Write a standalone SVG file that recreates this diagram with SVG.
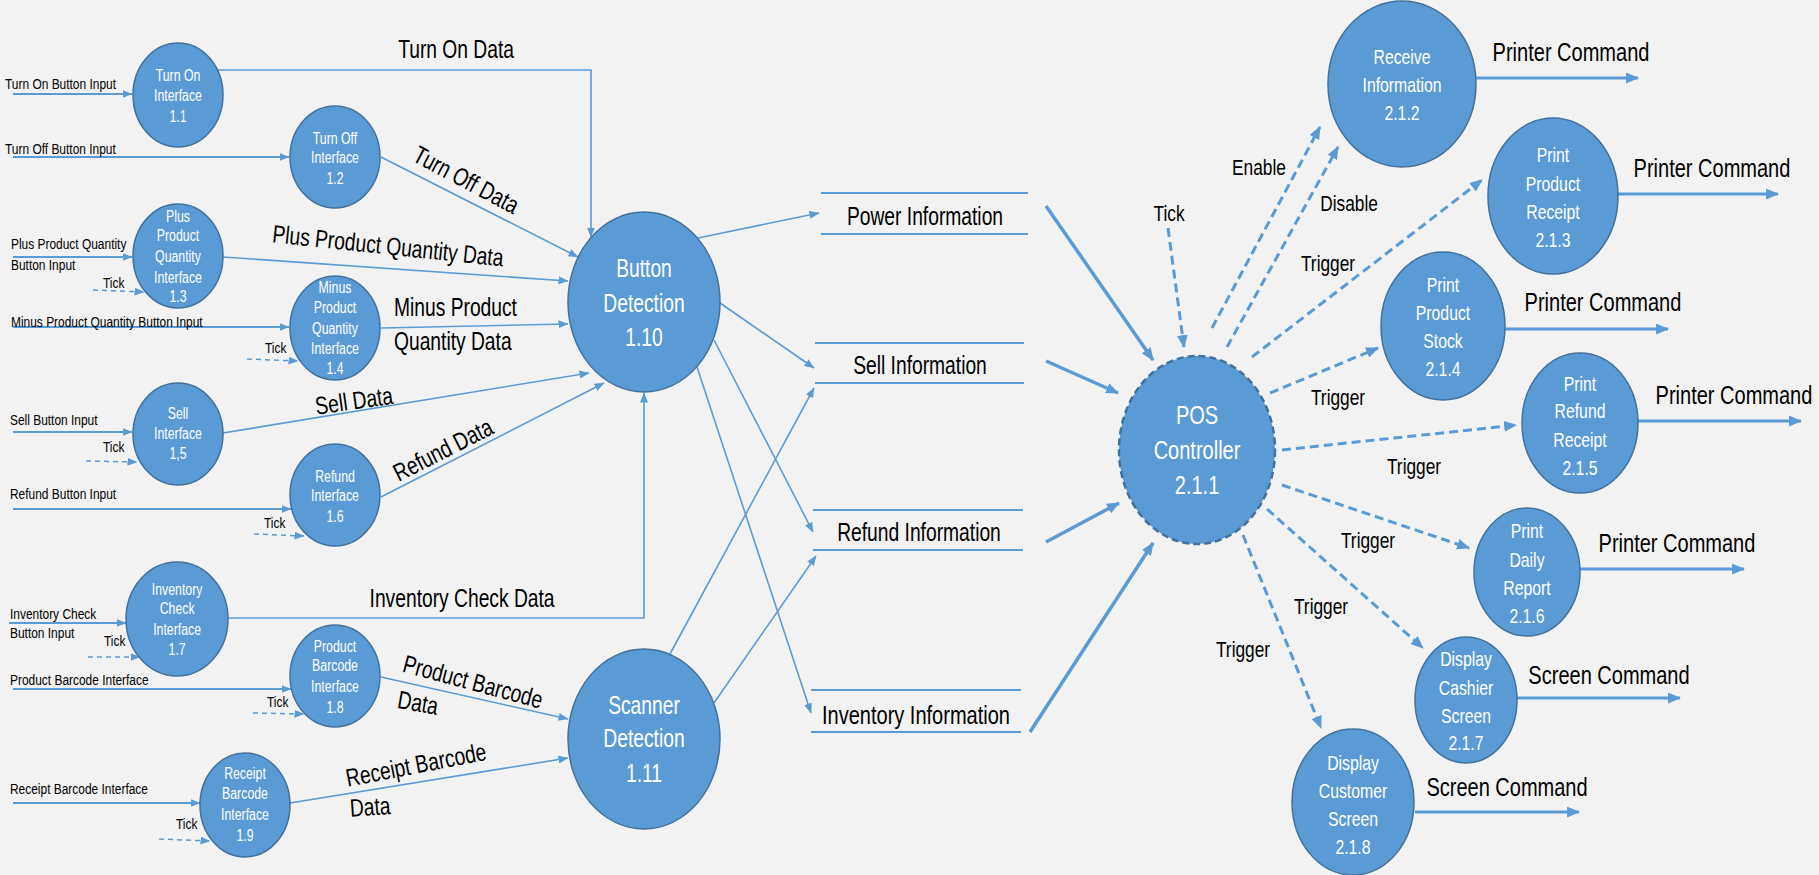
<svg xmlns="http://www.w3.org/2000/svg" width="1819" height="875" viewBox="0 0 1819 875">
<defs>
<style>
text { font-family: "Liberation Sans", Arial, sans-serif; dominant-baseline: central; transform-box: fill-box; transform: scaleX(0.77); fill:#000; }
.c { text-anchor: middle; transform-origin: 50% 50%; }
.l { text-anchor: start; transform-origin: 0% 50%; }
.w { fill:#fff; }
.f15 { font-size:15.5px; }
.f16 { font-size:16px; }
.f20 { font-size:20.5px; }
.f22 { font-size:22.5px; }
.f25 { font-size:25px; }
.f26 { font-size:26px; }
.n { fill:#5b9bd5; stroke:#41719c; stroke-width:1.5; }
.pos { fill:#5b9bd5; stroke:#41719c; stroke-width:2.5; stroke-dasharray:7 4; }
.ln { stroke:#5b9bd5; stroke-width:1.6; fill:none; marker-end:url(#ah); }
.in { stroke-width:2; }
.tk { stroke-width:1.5; stroke-dasharray:5 4; }
.th { stroke-width:3.5; marker-end:url(#ahb); }
.cm { stroke-width:3; marker-end:url(#ahb); }
.dd { stroke-width:3; stroke-dasharray:9 5; marker-end:url(#ahb); }
.st { stroke:#5b9bd5; stroke-width:2; }
</style>
<marker id="ah" viewBox="0 0 10 8" refX="9.5" refY="4" markerWidth="10" markerHeight="8" markerUnits="userSpaceOnUse" orient="auto"><path d="M0,0 L10,4 L0,8 z" fill="#5b9bd5"/></marker>
<marker id="ahb" viewBox="0 0 12 10" refX="11" refY="5" markerWidth="13" markerHeight="11" markerUnits="userSpaceOnUse" orient="auto"><path d="M0,0 L12,5 L0,10 z" fill="#5b9bd5"/></marker>
</defs>
<rect width="1819" height="875" fill="#f2f2f2"/>

<g id="connectors">
<line class="ln in" x1="13" y1="94" x2="132" y2="94"/>
<line class="ln in" x1="13" y1="157" x2="289" y2="157"/>
<line class="ln in" x1="13" y1="257" x2="132" y2="257"/>
<line class="ln tk" x1="93" y1="290" x2="144" y2="292"/>
<line class="ln in" x1="13" y1="327" x2="289" y2="327"/>
<line class="ln tk" x1="247" y1="359" x2="298" y2="361"/>
<line class="ln in" x1="13" y1="432" x2="132" y2="432"/>
<line class="ln tk" x1="86" y1="461" x2="137" y2="462"/>
<line class="ln in" x1="13" y1="509" x2="291" y2="509"/>
<line class="ln tk" x1="254" y1="534" x2="304" y2="536"/>
<line class="ln in" x1="9" y1="623" x2="126" y2="623"/>
<line class="ln tk" x1="88" y1="657" x2="140" y2="657"/>
<line class="ln in" x1="13" y1="689" x2="291" y2="689"/>
<line class="ln tk" x1="253" y1="713" x2="304" y2="714"/>
<line class="ln in" x1="13" y1="803" x2="200" y2="803"/>
<line class="ln tk" x1="159" y1="839" x2="210" y2="841"/>
<polyline class="ln" points="217,70 591,70 591,237"/>
<line class="ln" x1="381" y1="157" x2="578" y2="257"/>
<line class="ln" x1="223" y1="257" x2="568" y2="281"/>
<line class="ln" x1="381" y1="328" x2="568" y2="324"/>
<line class="ln" x1="223" y1="433" x2="589" y2="373"/>
<line class="ln" x1="381" y1="497" x2="604" y2="383"/>
<polyline class="ln" points="228,618 644,618 644,393"/>
<line class="ln" x1="381" y1="677" x2="568" y2="719"/>
<line class="ln" x1="290" y1="803" x2="568" y2="758"/>
<line class="ln" x1="698" y1="238" x2="819" y2="213"/>
<line class="ln" x1="720" y1="303" x2="814" y2="368"/>
<line class="ln" x1="714" y1="340" x2="813" y2="532"/>
<line class="ln" x1="697" y1="367" x2="811" y2="713"/>
<line class="ln" x1="670" y1="654" x2="814" y2="388"/>
<line class="ln" x1="714" y1="703" x2="816" y2="556"/>
<line class="ln th" x1="1046" y1="206" x2="1153" y2="360"/>
<line class="ln th" x1="1046" y1="361" x2="1118" y2="393"/>
<line class="ln th" x1="1046" y1="542" x2="1119" y2="503"/>
<line class="ln th" x1="1030" y1="732" x2="1153" y2="543"/>
<line class="ln dd" x1="1168" y1="228" x2="1184" y2="347"/>
<line class="ln dd" x1="1212" y1="328" x2="1320" y2="127"/>
<line class="ln dd" x1="1227" y1="347" x2="1338" y2="147"/>
<line class="ln dd" x1="1252" y1="357" x2="1482" y2="180"/>
<line class="ln dd" x1="1270" y1="393" x2="1378" y2="348"/>
<line class="ln dd" x1="1282" y1="450" x2="1516" y2="425"/>
<line class="ln dd" x1="1282" y1="485" x2="1469" y2="548"/>
<line class="ln dd" x1="1267" y1="509" x2="1423" y2="648"/>
<line class="ln dd" x1="1243" y1="535" x2="1321" y2="728"/>
<line class="ln cm" x1="1476" y1="78" x2="1638" y2="78"/>
<line class="ln cm" x1="1617" y1="194" x2="1778" y2="194"/>
<line class="ln cm" x1="1505" y1="329" x2="1668" y2="329"/>
<line class="ln cm" x1="1637" y1="421" x2="1801" y2="421"/>
<line class="ln cm" x1="1580" y1="569" x2="1744" y2="569"/>
<line class="ln cm" x1="1517" y1="698" x2="1680" y2="698"/>
<line class="ln cm" x1="1415" y1="812" x2="1579" y2="812"/>
</g>

<g id="labels">
<text class="l f15" x="5" y="83">Turn On Button Input</text>
<text class="l f15" x="5" y="148">Turn Off Button Input</text>
<text class="l f15" x="11" y="243">Plus Product Quantity</text>
<text class="l f15" x="11" y="264">Button Input</text>
<text class="l f15" x="103" y="282">Tick</text>
<text class="l f15" x="11" y="321">Minus Product Quantity Button Input</text>
<text class="l f15" x="265" y="347">Tick</text>
<text class="l f15" x="10" y="419">Sell Button Input</text>
<text class="l f15" x="103" y="446">Tick</text>
<text class="l f15" x="10" y="493">Refund Button Input</text>
<text class="l f15" x="264" y="522">Tick</text>
<text class="l f15" x="10" y="613">Inventory Check</text>
<text class="l f15" x="10" y="632">Button Input</text>
<text class="l f15" x="104" y="640">Tick</text>
<text class="l f15" x="10" y="679">Product Barcode Interface</text>
<text class="l f15" x="267" y="701">Tick</text>
<text class="l f15" x="10" y="788">Receipt Barcode Interface</text>
<text class="l f15" x="176" y="823">Tick</text>

<text class="c f25" x="456" y="50">Turn On Data</text>
<g transform="translate(466 180) rotate(28)"><text class="c f25" x="0" y="0">Turn Off Data</text></g>
<g transform="translate(388 246) rotate(6)"><text class="c f25" x="0" y="0">Plus Product Quantity Data</text></g>
<text class="l f25" x="394" y="308">Minus Product</text>
<text class="l f25" x="394" y="342">Quantity Data</text>
<g transform="translate(354 401) rotate(-8)"><text class="c f25" x="0" y="0">Sell Data</text></g>
<g transform="translate(443 450) rotate(-27)"><text class="c f25" x="0" y="0">Refund Data</text></g>
<text class="c f25" x="462" y="599">Inventory Check Data</text>
<g transform="translate(473 682) rotate(15)"><text class="c f25" x="0" y="0">Product Barcode</text></g>
<g transform="translate(418 703) rotate(10)"><text class="c f25" x="0" y="0">Data</text></g>
<g transform="translate(416 765) rotate(-11)"><text class="c f25" x="0" y="0">Receipt Barcode</text></g>
<g transform="translate(370 807) rotate(-4)"><text class="c f25" x="0" y="0">Data</text></g>

<text class="c f22" x="1169" y="213">Tick</text>
<text class="c f22" x="1259" y="167">Enable</text>
<text class="c f22" x="1349" y="203">Disable</text>
<text class="c f22" x="1328" y="263">Trigger</text>
<text class="c f22" x="1338" y="397">Trigger</text>
<text class="c f22" x="1414" y="466">Trigger</text>
<text class="c f22" x="1368" y="540">Trigger</text>
<text class="c f22" x="1321" y="606">Trigger</text>
<text class="c f22" x="1243" y="649">Trigger</text>

<text class="c f26" x="1571" y="52">Printer Command</text>
<text class="c f26" x="1712" y="168">Printer Command</text>
<text class="c f26" x="1603" y="302">Printer Command</text>
<text class="c f26" x="1734" y="395">Printer Command</text>
<text class="c f26" x="1677" y="543">Printer Command</text>
<text class="c f26" x="1609" y="675">Screen Command</text>
<text class="c f26" x="1507" y="787">Screen Command</text>
</g>

<g id="store_power"><line class="st" x1="821" y1="193" x2="1028" y2="193"/><line class="st" x1="821" y1="234" x2="1028" y2="234"/><text class="c f25" x="925" y="217">Power Information</text></g>
<g id="store_sell"><line class="st" x1="815" y1="343" x2="1024" y2="343"/><line class="st" x1="815" y1="383" x2="1024" y2="383"/><text class="c f25" x="920" y="366">Sell Information</text></g>
<g id="store_refund"><line class="st" x1="813" y1="510" x2="1023" y2="510"/><line class="st" x1="813" y1="550" x2="1023" y2="550"/><text class="c f25" x="919" y="533">Refund Information</text></g>
<g id="store_inventory"><line class="st" x1="811" y1="690" x2="1021" y2="690"/><line class="st" x1="811" y1="732" x2="1021" y2="732"/><text class="c f26" x="916" y="715">Inventory Information</text></g>

<g id="n1_1"><ellipse class="n" cx="178" cy="95" rx="45" ry="52"/><text class="c w f16"><tspan x="178" y="75">Turn On</tspan><tspan x="178" y="95">Interface</tspan><tspan x="178" y="116">1.1</tspan></text></g>
<g id="n1_2"><ellipse class="n" cx="335" cy="157" rx="45" ry="51"/><text class="c w f16"><tspan x="335" y="138">Turn Off</tspan><tspan x="335" y="157">Interface</tspan><tspan x="335" y="178">1.2</tspan></text></g>
<g id="n1_3"><ellipse class="n" cx="178" cy="256" rx="45" ry="52"/><text class="c w f16"><tspan x="178" y="216">Plus</tspan><tspan x="178" y="235">Product</tspan><tspan x="178" y="256">Quantity</tspan><tspan x="178" y="277">Interface</tspan><tspan x="178" y="296">1.3</tspan></text></g>
<g id="n1_4"><ellipse class="n" cx="335" cy="328" rx="45" ry="52"/><text class="c w f16"><tspan x="335" y="287">Minus</tspan><tspan x="335" y="307">Product</tspan><tspan x="335" y="328">Quantity</tspan><tspan x="335" y="348">Interface</tspan><tspan x="335" y="368">1.4</tspan></text></g>
<g id="n1_5"><ellipse class="n" cx="178" cy="434" rx="45" ry="51"/><text class="c w f16"><tspan x="178" y="413">Sell</tspan><tspan x="178" y="433">Interface</tspan><tspan x="178" y="453">1,5</tspan></text></g>
<g id="n1_6"><ellipse class="n" cx="335" cy="495" rx="45" ry="51"/><text class="c w f16"><tspan x="335" y="476">Refund</tspan><tspan x="335" y="495">Interface</tspan><tspan x="335" y="516">1.6</tspan></text></g>
<g id="n1_7"><ellipse class="n" cx="177" cy="619" rx="51" ry="57"/><text class="c w f16"><tspan x="177" y="589">Inventory</tspan><tspan x="177" y="608">Check</tspan><tspan x="177" y="629">Interface</tspan><tspan x="177" y="649">1.7</tspan></text></g>
<g id="n1_8"><ellipse class="n" cx="335" cy="676" rx="45" ry="51"/><text class="c w f16"><tspan x="335" y="646">Product</tspan><tspan x="335" y="665">Barcode</tspan><tspan x="335" y="686">Interface</tspan><tspan x="335" y="707">1.8</tspan></text></g>
<g id="n1_9"><ellipse class="n" cx="245" cy="805" rx="45" ry="52"/><text class="c w f16"><tspan x="245" y="773">Receipt</tspan><tspan x="245" y="793">Barcode</tspan><tspan x="245" y="814">Interface</tspan><tspan x="245" y="835">1.9</tspan></text></g>
<g id="n1_10"><ellipse class="n" cx="644" cy="302" rx="76" ry="90"/><text class="c w f25"><tspan x="644" y="268">Button</tspan><tspan x="644" y="303">Detection</tspan><tspan x="644" y="337">1.10</tspan></text></g>
<g id="n1_11"><ellipse class="n" cx="644" cy="739" rx="76" ry="90"/><text class="c w f25"><tspan x="644" y="705">Scanner</tspan><tspan x="644" y="738">Detection</tspan><tspan x="644" y="773">1.11</tspan></text></g>
<g id="n2_1_1"><ellipse class="pos" cx="1197" cy="450" rx="78" ry="94"/><text class="c w f26"><tspan x="1197" y="415">POS</tspan><tspan x="1197" y="450">Controller</tspan><tspan x="1197" y="485">2.1.1</tspan></text></g>
<g id="n2_1_2"><ellipse class="n" cx="1402" cy="84" rx="74" ry="83"/><text class="c w f20"><tspan x="1402" y="56">Receive</tspan><tspan x="1402" y="84">Information</tspan><tspan x="1402" y="112">2.1.2</tspan></text></g>
<g id="n2_1_3"><ellipse class="n" cx="1553" cy="196" rx="65" ry="78"/><text class="c w f20"><tspan x="1553" y="154">Print</tspan><tspan x="1553" y="183">Product</tspan><tspan x="1553" y="211">Receipt</tspan><tspan x="1553" y="239">2.1.3</tspan></text></g>
<g id="n2_1_4"><ellipse class="n" cx="1443" cy="326" rx="62" ry="74"/><text class="c w f20"><tspan x="1443" y="284">Print</tspan><tspan x="1443" y="312">Product</tspan><tspan x="1443" y="340">Stock</tspan><tspan x="1443" y="368">2.1.4</tspan></text></g>
<g id="n2_1_5"><ellipse class="n" cx="1580" cy="423" rx="58" ry="70"/><text class="c w f20"><tspan x="1580" y="383">Print</tspan><tspan x="1580" y="410">Refund</tspan><tspan x="1580" y="439">Receipt</tspan><tspan x="1580" y="467">2.1.5</tspan></text></g>
<g id="n2_1_6"><ellipse class="n" cx="1527" cy="572" rx="53" ry="64"/><text class="c w f20"><tspan x="1527" y="530">Print</tspan><tspan x="1527" y="559">Daily</tspan><tspan x="1527" y="587">Report</tspan><tspan x="1527" y="615">2.1.6</tspan></text></g>
<g id="n2_1_7"><ellipse class="n" cx="1466" cy="700" rx="51" ry="63"/><text class="c w f20"><tspan x="1466" y="658">Display</tspan><tspan x="1466" y="687">Cashier</tspan><tspan x="1466" y="715">Screen</tspan><tspan x="1466" y="742">2.1.7</tspan></text></g>
<g id="n2_1_8"><ellipse class="n" cx="1353" cy="802" rx="61" ry="73"/><text class="c w f20"><tspan x="1353" y="762">Display</tspan><tspan x="1353" y="790">Customer</tspan><tspan x="1353" y="818">Screen</tspan><tspan x="1353" y="846">2.1.8</tspan></text></g>
</svg>
